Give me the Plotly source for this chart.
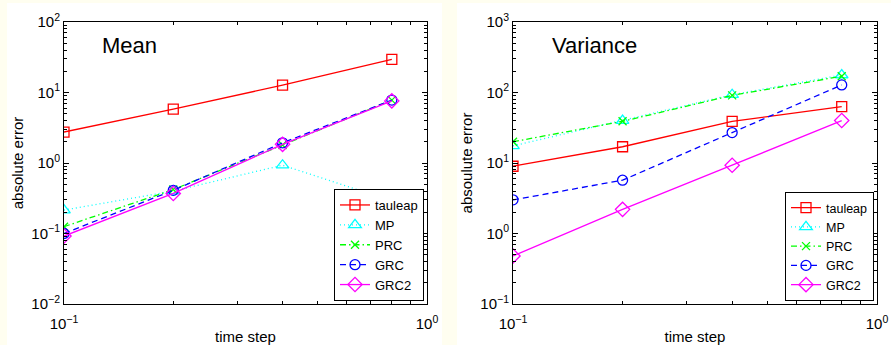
import plotly.graph_objects as go

W, H = 891, 345

time_step = [0.1, 0.2, 0.4, 0.8]
series_names = ["tauleap", "MP", "PRC", "GRC", "GRC2"]

mean_tauleap = [2.75, 5.8, 12.7, 29.5]
mean_mp = [0.215, 0.40, 0.93, 0.29]
mean_prc = [0.125, 0.42, 1.8, 7.8]
mean_grc = [0.10, 0.41, 1.93, 7.8]
mean_grc2 = [0.092, 0.37, 1.84, 7.6]

var_tauleap = [9.0, 17.0, 39.0, 63.0]
var_mp = [17.5, 40.0, 93.0, 177.0]
var_prc = [20.0, 39.0, 91.0, 170.0]
var_grc = [3.0, 5.7, 27.0, 128.0]
var_grc2 = [0.48, 2.2, 9.3, 40.0]

x_tickvals = [0.1, 1.0]
x_ticktext = ["10<sup>\u22121</sup>", "10<sup>0</sup>"]
mean_ytickvals = [0.01, 0.1, 1, 10, 100]
mean_yticktext = ["10<sup>\u22122</sup>", "10<sup>\u22121</sup>", "10<sup>0</sup>", "10<sup>1</sup>", "10<sup>2</sup>"]
var_ytickvals = [0.1, 1, 10, 100, 1000]
var_yticktext = ["10<sup>\u22121</sup>", "10<sup>0</sup>", "10<sup>1</sup>", "10<sup>2</sup>", "10<sup>3</sup>"]

styles = {
    "tauleap": dict(color="#FF0000", dash="solid", symbol="square-open", size=10),
    "MP": dict(color="#00FFFF", dash="1px,3px", symbol="triangle-up-open", size=11),
    "PRC": dict(color="#00FF00", dash="6px,3px,1.5px,3px", symbol="x-thin-open", size=8),
    "GRC": dict(color="#0000FF", dash="6px,4px", symbol="circle-open", size=10),
    "GRC2": dict(color="#FF00FF", dash="solid", symbol="diamond-open", size=11),
}

FONT = "Liberation Sans, Arial, sans-serif"
fig = go.Figure()

mean_data = [mean_tauleap, mean_mp, mean_prc, mean_grc, mean_grc2]
var_data = [var_tauleap, var_mp, var_prc, var_grc, var_grc2]

for name, ys in zip(series_names, mean_data):
    s = styles[name]
    fig.add_trace(go.Scatter(
        x=time_step, y=ys, name=name, mode="lines+markers",
        line=dict(color=s["color"], width=1.3, dash=s["dash"]),
        marker=dict(symbol=s["symbol"], size=s["size"], color=s["color"],
                    line=dict(color=s["color"], width=1.3)),
        xaxis="x", yaxis="y", legend="legend"))

for name, ys in zip(series_names, var_data):
    s = styles[name]
    fig.add_trace(go.Scatter(
        x=time_step, y=ys, name=name, mode="lines+markers",
        line=dict(color=s["color"], width=1.3, dash=s["dash"]),
        marker=dict(symbol=s["symbol"], size=s["size"], color=s["color"],
                    line=dict(color=s["color"], width=1.3)),
        xaxis="x2", yaxis="y2", legend="legend2"))

def minor_vals(lo_exp, hi_exp):
    v = []
    for e in range(lo_exp, hi_exp):
        for m in range(2, 10):
            v.append(m * 10 ** e)
    return v

def axis_common():
    return dict(type="log", showgrid=False, zeroline=False, showline=True,
                linecolor="black", linewidth=1, mirror="allticks", automargin=False,
                ticks="inside", ticklen=5, tickcolor="black", tickwidth=1,
                tickfont=dict(family=FONT, size=15, color="black"))

pt, pb = 22, 304
ydom = [1 - pb / H, 1 - pt / H]
L1, R1 = 64, 427
L2, R2 = 513, 877
TF = dict(family=FONT, size=15, color="black")

xa = axis_common()
xa.update(domain=[L1 / W, R1 / W], range=[-1, 0], tickvals=x_tickvals, ticktext=x_ticktext,
          ticklabelstandoff=6,
          minor=dict(tickvals=minor_vals(-1, 0), ticks="inside", ticklen=3, tickcolor="black"),
          title=dict(text="time step", font=TF, standoff=4), anchor="y")
ya = axis_common()
ya.update(domain=ydom, range=[-2, 2], tickvals=mean_ytickvals, ticktext=mean_yticktext,
          minor=dict(tickvals=minor_vals(-2, 2), ticks="inside", ticklen=3, tickcolor="black"),
          title=dict(text="absolute error", font=TF, standoff=4), anchor="x")
xa2 = axis_common()
xa2.update(domain=[L2 / W, R2 / W], range=[-1, 0], tickvals=x_tickvals, ticktext=x_ticktext,
           ticklabelstandoff=6,
           minor=dict(tickvals=minor_vals(-1, 0), ticks="inside", ticklen=3, tickcolor="black"),
           title=dict(text="time step", font=TF, standoff=4), anchor="y2")
ya2 = axis_common()
ya2.update(domain=ydom, range=[-1, 3], tickvals=var_ytickvals, ticktext=var_yticktext,
           minor=dict(tickvals=minor_vals(-1, 3), ticks="inside", ticklen=3, tickcolor="black"),
           title=dict(text="absoulute error", font=TF, standoff=4), anchor="x2")

legend_common = dict(bgcolor="white", bordercolor="black", borderwidth=1,
                     itemwidth=30, tracegroupgap=0)

fig.update_layout(
    width=W, height=H,
    margin=dict(l=0, r=0, t=0, b=0),
    paper_bgcolor="#FFFEF0", plot_bgcolor="white",
    xaxis=xa, yaxis=ya, xaxis2=xa2, yaxis2=ya2,
    font=dict(family=FONT, color="black"),
    legend=dict(**legend_common, x=424 / W, y=1 - 301 / H, xanchor="right", yanchor="bottom",
                font=dict(family=FONT, size=13, color="black")),
    legend2=dict(**legend_common, x=874 / W, y=1 - 301 / H, xanchor="right", yanchor="bottom",
                 font=dict(family=FONT, size=12.5, color="black")),
    shapes=[
        dict(type="rect", xref="paper", yref="paper", x0=7 / W, x1=442 / W, y0=0, y1=1 - 3 / H,
             fillcolor="white", line=dict(width=0), layer="below"),
        dict(type="rect", xref="paper", yref="paper", x0=457 / W, x1=1, y0=0, y1=1 - 3 / H,
             fillcolor="white", line=dict(width=0), layer="below"),
    ],
    annotations=[
        dict(text="Mean", xref="paper", yref="paper", x=100 / W, y=1 - 46 / H,
             xanchor="left", yanchor="middle", showarrow=False,
             font=dict(family=FONT, size=22, color="black")),
        dict(text="Variance", xref="paper", yref="paper", x=550 / W, y=1 - 46 / H,
             xanchor="left", yanchor="middle", showarrow=False,
             font=dict(family=FONT, size=22, color="black")),
    ],
)

fig.write_html("out.html")
